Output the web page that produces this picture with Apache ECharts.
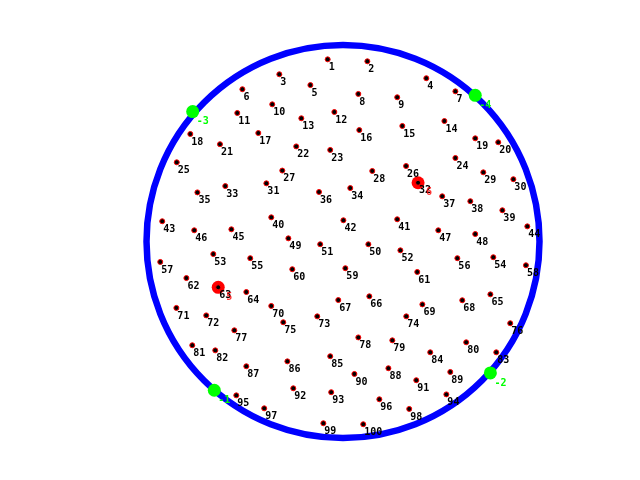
<!DOCTYPE html>
<html>
<head>
<meta charset="utf-8">
<script src="https://cdn.jsdelivr.net/npm/echarts@6/dist/echarts.min.js"></script>
<style>html,body{margin:0;padding:0;background:#fff;}#c{width:640px;height:480px;}</style>
</head>
<body>
<div id="c"></div>
<script>
// Numbered points (units: circle radius = 100), numbered 1..100
const pointX = [-7.8,12.4,-32.4,42.4,-16.6,-51.2,57.2,7.8,27.6,-36.0,
  -53.8,-4.4,-21.2,51.6,30.2,8.3,-43.1,-77.7,67.3,79.0,
  -62.6,-23.8,-6.5,57.2,-84.6,32.1,-30.9,14.9,71.4,86.7,
  -39.0,38.2,-59.9,3.7,-74.1,-12.2,50.5,64.8,81.1,-36.5,
  27.6,0.2,-92.0,93.8,-56.8,-75.7,48.5,67.3,-27.8,12.9,
  -11.6,29.2,-66.0,76.5,-47.2,58.2,-93.0,93.1,1.2,-25.8,
  37.8,-79.7,-63.5,-49.2,75.0,13.4,-2.4,60.7,40.4,-36.5,
  -84.8,-69.6,-13.1,32.2,-30.4,85.1,-55.3,7.8,25.1,62.7,
  -76.7,-65.0,78.0,44.4,-6.5,-28.3,-49.2,23.1,54.6,5.8,
  37.3,-25.3,-6.0,52.6,-54.3,18.5,-40.1,33.7,-10.0,10.3];
const pointY = [92.7,91.7,85.1,83.1,79.6,77.5,76.4,75.1,73.4,69.8,
  65.4,65.9,62.7,61.3,58.8,56.7,55.2,54.7,52.5,50.5,
  49.5,48.4,46.6,42.5,40.3,38.4,36.1,35.9,35.2,31.7,
  29.6,29.9,28.2,27.2,25.0,25.2,23.0,20.5,15.9,12.3,
  11.3,10.8,10.3,7.7,6.2,5.7,5.7,3.8,1.6,-1.4,
  -1.4,-4.5,-6.4,-8.0,-8.5,-8.5,-10.4,-12.1,-13.6,-14.1,
  -15.5,-18.6,-23.3,-25.7,-26.9,-27.9,-29.8,-29.9,-32.0,-32.8,
  -33.8,-37.6,-38.1,-38.1,-41.1,-41.6,-45.2,-48.8,-50.3,-51.3,
  -52.8,-55.4,-56.4,-56.4,-58.4,-61.0,-63.5,-64.5,-66.4,-67.4,
  -70.6,-74.7,-76.7,-77.8,-78.3,-80.3,-84.9,-85.2,-92.5,-93.0];

// Highlighted (red) points
const redX = [38.2, -63.5];
const redY = [29.9, -23.3];
const redLabels = ['6', '5'];

// Points on the circle (green)
const greenX = [-65.5, 75.0, -76.5, 67.3];
const greenY = [-75.7, -66.9, 66.1, 74.4];
const greenLabels = ['-1', '-2', '-3', '-4'];

// Circle
const circleCenter = [0, 0];
const circleRadius = 100;

const labelFont = {fontFamily: 'DejaVu Sans Mono', fontWeight: 'bold', fontSize: 10};

const chart = echarts.init(document.getElementById('c'), null, {renderer: 'canvas'});
chart.setOption({
  animation: false,
  backgroundColor: '#fff',
  grid: {left: 48.25, top: 5.7, width: 589.5, height: 471.6},
  xAxis: {type: 'value', min: -150, max: 150, show: false},
  yAxis: {type: 'value', min: -120, max: 120, show: false},
  series: [
    {
      type: 'custom',
      zlevel: 0,
      z: 1,
      silent: true,
      data: [[circleCenter[0], circleCenter[1], circleRadius]],
      renderItem: function (params, api) {
        const c = api.coord([api.value(0), api.value(1)]);
        const r = api.size([api.value(2), api.value(2)]);
        return {
          type: 'circle',
          shape: {cx: c[0], cy: c[1], r: r[0]},
          style: {fill: null, stroke: '#0000ff', lineWidth: 6.5}
        };
      }
    },
    {
      type: 'scatter',
      zlevel: 1,
      z: 2,
      symbolSize: 13,
      itemStyle: {color: '#ff0000', opacity: 1},
      data: redX.map((x, i) => ({value: [x, redY[i]], name: redLabels[i]})),
      label: {show: false}
    },
    {
      type: 'scatter',
      zlevel: 1,
      z: 3,
      symbolSize: 5,
      itemStyle: {color: '#000000', borderColor: '#ff0000', borderWidth: 1, opacity: 1},
      data: pointX.map((x, i) => ({value: [x, pointY[i]], name: String(i + 1)})),
      label: Object.assign({
        show: true, position: 'inside', align: 'left', verticalAlign: 'top',
        offset: [1, 3], color: '#000', formatter: p => p.name
      }, labelFont)
    },
    {
      type: 'scatter',
      zlevel: 1,
      z: 4,
      symbolSize: 0.1,
      itemStyle: {color: 'rgba(0,0,0,0)'},
      data: redX.map((x, i) => ({value: [x, redY[i]], name: redLabels[i]})),
      label: Object.assign({
        show: true, position: 'inside', align: 'left', verticalAlign: 'top',
        offset: [8, 5], color: '#ff0000', formatter: p => p.name
      }, labelFont)
    },
    {
      type: 'scatter',
      zlevel: 1,
      z: 5,
      symbolSize: 13,
      itemStyle: {color: '#00ff00', opacity: 1},
      data: greenX.map((x, i) => ({value: [x, greenY[i]], name: greenLabels[i]})),
      label: Object.assign({
        show: true, position: 'inside', align: 'left', verticalAlign: 'top',
        offset: [4, 5], color: '#00ff00', formatter: p => p.name
      }, labelFont)
    }
  ]
});
</script>
</body>
</html>
